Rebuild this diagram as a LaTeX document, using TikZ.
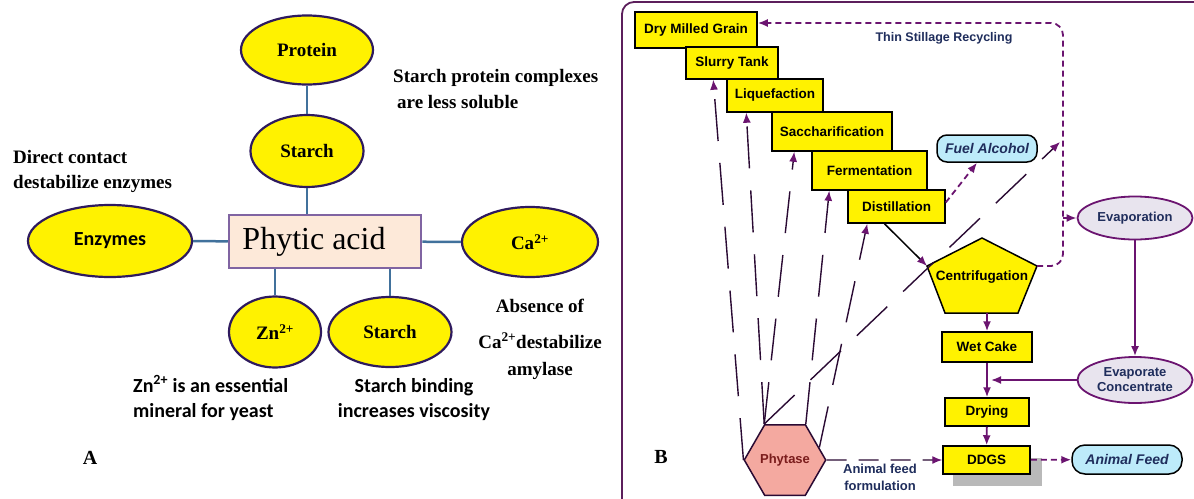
\documentclass[tikz,border=0pt]{standalone}
\usepackage{fontspec}
\setmainfont{Liberation Serif}
\setsansfont{Liberation Sans}
\newfontfamily\calfont{Carlito}
\usetikzlibrary{shapes.geometric,arrows.meta}
\definecolor{ellline}{HTML}{2E1A5E}
\definecolor{linkblue}{HTML}{41719C}
\definecolor{boxline}{HTML}{8064A2}
\definecolor{boxfill}{HTML}{FDE9D9}
\definecolor{appurple}{HTML}{6B1470}
\definecolor{darkline}{HTML}{2A0A33}
\definecolor{navy}{HTML}{1F2D5C}
\definecolor{cyanfill}{HTML}{BDEBFA}
\definecolor{lavfill}{HTML}{E8E4EE}
\definecolor{phyfill}{HTML}{F4A9A0}
\definecolor{phytext}{HTML}{7A1C1C}
\definecolor{bframe}{HTML}{5C1F5C}

\begin{document}
\begin{tikzpicture}[x=1pt,y=-1pt,
  ell/.style={ellipse, draw=ellline, line width=2.2pt, fill=yellow, inner sep=0pt,
    font=\bfseries\fontsize{19}{21}\selectfont},
  link/.style={draw=linkblue, line width=2.5pt},
  note/.style={inner sep=0pt, font=\bfseries\fontsize{19}{21}\selectfont},
  cnote/.style={inner sep=0pt, font=\calfont\bfseries\fontsize{20}{22}\selectfont},
  stepbox/.style={draw=black, line width=1.5pt, fill=yellow, inner sep=0pt,
    font=\sffamily\bfseries\fontsize{13.5}{15}\selectfont},
  endbox/.style={draw=black, line width=1.5pt, fill=cyanfill, rounded corners=10pt,
    inner sep=0pt, text=navy, font=\sffamily\bfseries\itshape\fontsize{14}{16}\selectfont},
  evbox/.style={ellipse, draw=appurple, line width=1.8pt, fill=lavfill, inner sep=0pt,
    text=navy, align=center, font=\sffamily\bfseries\fontsize{13}{15}\selectfont},
  flow/.style={draw=appurple, line width=1.8pt, -{Latex[length=10pt,width=8pt]}},
  dflow/.style={flow, dash pattern=on 6pt off 4pt},
  phyline/.style={draw=darkline, line width=1.4pt, dash pattern=on 42pt off 22pt,
    -{Latex[length=10pt,width=8pt,color=appurple]}},
  flowtext/.style={text=navy, inner sep=0pt, font=\sffamily\bfseries\fontsize{13}{15}\selectfont}]

\useasboundingbox (0,0) rectangle (1194,498);
\clip (0,0) rectangle (1194,498);
\fill[white] (0,0) rectangle (1194,498);

% A: phytic acid and what it binds
\node[ell, minimum width=132pt, minimum height=69pt] (protein) at (307,50) {Protein};
\node[ell, minimum width=113pt, minimum height=72pt] (starchT) at (307,151) {Starch};
\node[draw=boxline, line width=2.5pt, fill=boxfill, minimum width=192pt, minimum height=53pt,
  inner sep=0pt, font=\fontsize{32}{34}\selectfont] (phytic) at (325,241.5) {\hspace*{-22pt}Phytic acid};
\node[ell, minimum width=164pt, minimum height=72pt, font=\calfont\bfseries\fontsize{20}{22}\selectfont] (enz) at (110,241) {Enzymes};
\node[ell, minimum width=136pt, minimum height=70pt] (ca) at (530,242) {Ca\textsuperscript{2+}};
\node[ell, minimum width=92pt, minimum height=71pt] (zn) at (275,332) {Zn\textsuperscript{2+}};
\node[ell, minimum width=123pt, minimum height=70pt] (starchB) at (390,332) {Starch};

\draw[link] (protein) -- (starchT);
\draw[link] (starchT) -- (starchT |- phytic.north);
\draw[link] (enz) -- (phytic);
\draw[link] (phytic) -- (ca);
\draw[link] (zn) -- (zn |- phytic.south);
\draw[link] (starchB) -- (starchB |- phytic.south);

\node[note, anchor=base west] (cxa) at (393,82) {Starch protein complexes};
\node[note, anchor=base west] (cxb) at (397,108) {are less soluble};
\node[note, anchor=base west] (dca) at (13,163) {Direct contact};
\node[note, anchor=base west] (dcb) at (13,188) {destabilize enzymes};
\node[note, anchor=base] (aba) at (540,312) {Absence of};
\node[note, anchor=base] (abb) at (540,348) {Ca\textsuperscript{2+}destabilize};
\node[note, anchor=base] (abc) at (540,375) {amylase};
\node[cnote, anchor=base west] (zna) at (133,392) {Zn\textsuperscript{2+} is an essential};
\node[cnote, anchor=base west] (znb) at (133,417) {mineral for yeast};
\node[cnote, anchor=base] (sba) at (414,392) {Starch binding};
\node[cnote, anchor=base] (sbb) at (414,417) {increases viscosity};
\node[note, font=\bfseries\fontsize{20}{22}\selectfont] (pa) at (90,458) {A};

% B: dry grind process
\draw[bframe, line width=1.8pt, rounded corners=12pt] (1210,520) -- (622,520) -- (622,2) -- (1210,2);

\node[stepbox, minimum width=122pt, minimum height=36pt] (dmg) at (696,30) {Dry Milled Grain};
\node[stepbox, minimum width=92pt, minimum height=32pt] (slurry) at (732,63) {Slurry Tank};
\node[stepbox, minimum width=96pt, minimum height=33pt] (liq) at (775,95.5) {Liquefaction};
\node[stepbox, minimum width=120pt, minimum height=39pt] (sacc) at (832,131.5) {Saccharification};
\node[stepbox, minimum width=115pt, minimum height=39pt] (ferm) at (869.5,170.5) {Fermentation};
\node[stepbox, minimum width=97pt, minimum height=33pt] (dist) at (896.5,206.5) {Distillation};

\draw[fill=yellow, line width=1.5pt] (982,238) -- (1037,266) -- (1018,313) -- (945,313) -- (927,266) -- cycle;
\node[inner sep=0pt, font=\sffamily\bfseries\fontsize{13.5}{15}\selectfont] (cent) at (982,277) {Centrifugation};
\coordinate (centw) at (927,266);
\coordinate (cente) at (1037,266);
\coordinate (cents) at (987,313);

\node[stepbox, minimum width=90pt, minimum height=30pt] (wet) at (987,347) {Wet Cake};
\node[stepbox, minimum width=84pt, minimum height=28pt] (dry) at (987,412) {Drying};
\fill[gray!55] (953,458) rectangle (1042,486);
\node[stepbox, minimum width=87pt, minimum height=28pt] (ddgs) at (986.5,460) {DDGS};
\node[endbox, minimum width=100pt, minimum height=27pt] (fuel) at (987,148.5) {Fuel Alcohol};
\node[endbox, minimum width=110pt, minimum height=29pt, rounded corners=13pt] (feed) at (1127,459.5) {Animal Feed};
\node[evbox, minimum width=115pt, minimum height=43pt] (evap) at (1135,218) {Evaporation};
\node[evbox, minimum width=115pt, minimum height=46pt] (evcon) at (1135,380) {Evaporate\\Concentrate};
\node[regular polygon, regular polygon sides=6, minimum size=75pt, inner sep=0pt, draw=darkline,
  line width=1.5pt, fill=phyfill, text=phytext, font=\sffamily\bfseries\fontsize{13}{15}\selectfont] (phy) at (785,460) {Phytase};

\coordinate (rtop) at (1063,23);
\coordinate (tee) at (1063,218);
\coordinate (join) at (987,380);
\coordinate (stl) at (1060,142);

\draw[dflow, rounded corners=12pt] (cente) -| (rtop) -- ([yshift=7pt]dmg.east);
\node[flowtext, font=\sffamily\bfseries\fontsize{12.5}{14}\selectfont] (tsr) at (944,38) {Thin Stillage Recycling};
\draw[flow] (tee) -- (evap.west);
\draw[flow] (evap) -- (evcon);
\draw[flow] (evcon.west) -- ([xshift=4pt]join);
\draw[flow] (cents) -- (wet);
\draw[flow] (wet) -- (dry);
\draw[flow] (dry) -- (ddgs);
\draw[dflow] (ddgs) -- (feed);
\draw[dflow] ([yshift=4pt]dist.east) -- ([xshift=-10pt]fuel.south);
\draw[line width=1.5pt, -{Latex[length=10pt,width=8pt,color=appurple]}] ([xshift=-12pt]dist.south) -- (centw);

\draw[phyline] (phy.180) -- ([xshift=28pt]slurry.south west);
\draw[phyline] (phy.120) -- ([xshift=20pt]liq.south west);
\draw[phyline] (phy.120) -- ([xshift=23pt]sacc.south west);
\draw[phyline] (phy.60) -- ([xshift=18pt]ferm.south west);
\draw[phyline] (phy.20) -- ([xshift=20pt]dist.south west);
\draw[phyline] (phy.120) -- (stl);
\draw[phyline, dash pattern=on 20pt off 12pt] (phy.0) -- (ddgs.west);
\node[flowtext] (afa) at (880,469) {Animal feed};
\node[flowtext] (afb) at (880,486) {formulation};
\node[note, font=\bfseries\fontsize{20}{22}\selectfont] (pb) at (661,457) {B};
\end{tikzpicture}
\end{document}
